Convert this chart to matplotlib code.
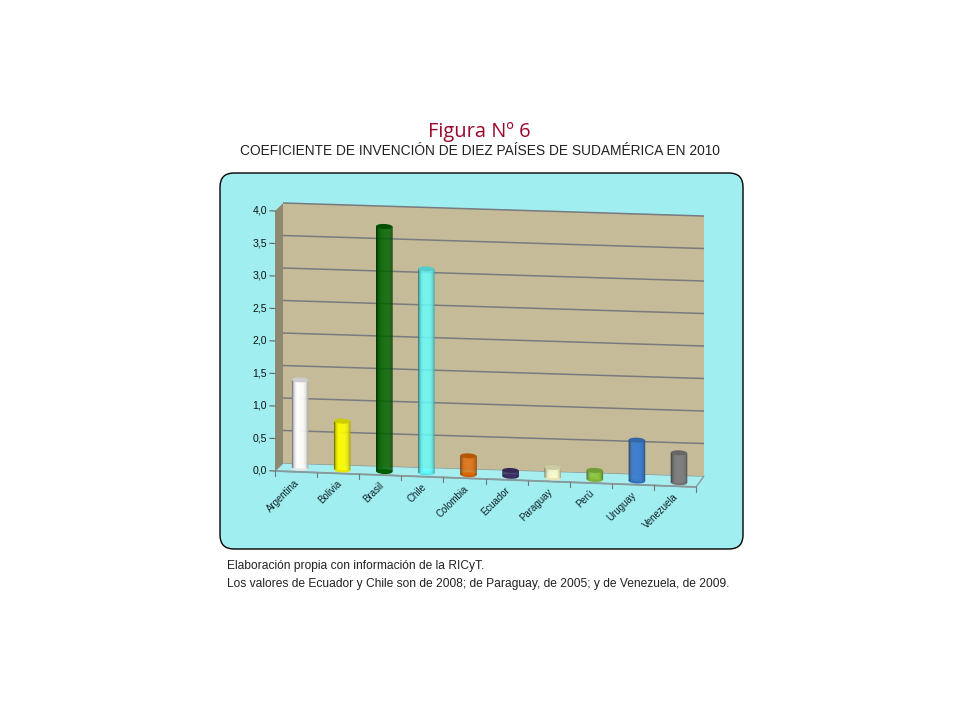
import numpy as np
import matplotlib
matplotlib.use('Agg')
import matplotlib.pyplot as plt
import matplotlib.patches as patch
from matplotlib.transforms import Affine2D, IdentityTransform

paises = ['Argentina', 'Bolivia', 'Brasil', 'Chile', 'Colombia', 'Ecuador',
          'Paraguay', 'Perú', 'Uruguay', 'Venezuela']
valores = [1.36, 0.75, 3.77, 3.14, 0.29, 0.09, 0.16, 0.14, 0.63, 0.46]
colores = ['#ffffff', '#ffff00', '#006400', '#66ffff', '#e36c0a',
           '#403268', '#ffffcc', '#8cc63f', '#3f7fd0', '#7f7f7f']
eje_y = [0.0, 0.5, 1.0, 1.5, 2.0, 2.5, 3.0, 3.5, 4.0]

titulo = 'Figura Nº 6'
subtitulo = 'COEFICIENTE DE INVENCIÓN DE DIEZ PAÍSES DE SUDAMÉRICA EN 2010'
nota1 = 'Elaboración propia con información de la RICyT.'
nota2 = 'Los valores de Ecuador y Chile son de 2008; de Paraguay, de 2005; y de Venezuela, de 2009.'

W, H = 960, 720
DEPTH = 8
SLOPE = 16 / 421
SLOPE_BACK = 13 / 420
X0, X1, Y_TOP, Y_BASE = 275, 696, 211, 471


def shade(color, f):
    c = np.array(matplotlib.colors.to_rgb(color))
    if f < 1:
        return tuple(c * f)
    return tuple(c + (1 - c) * (f - 1))


def cizalla(k):
    return Affine2D(np.array([[1, 0, 0], [-k, 1, k * X0], [0, 0, 1]]))


fig = plt.figure(figsize=(W / 100, H / 100), dpi=100, facecolor='white')

# capa de fondo en pixeles
bg = fig.add_axes([0, 0, 1, 1])
bg.set_xlim(0, W)
bg.set_ylim(H, 0)
bg.set_axis_off()
bg.add_patch(patch.FancyBboxPatch((232, 185), 499, 352, boxstyle='round,pad=12,rounding_size=14',
                                  facecolor='#a0eef0', edgecolor='black', linewidth=1))
bg.text(479, 132.5, titulo, color='#9b0a2d', fontsize=14.4, ha='center', va='center', family='Open Sans')
bg.text(479.5, 151, subtitulo, color='#222222', fontsize=9.95, ha='center', va='center', family='Liberation Sans')
bg.text(227, 566, nota1, color='#222222', fontsize=8.65, ha='left', va='center', family='Liberation Sans')
bg.text(227, 583.5, nota2, color='#222222', fontsize=8.65, ha='left', va='center', family='Liberation Sans')

# grafico: eje en pixeles con cizalla para el falso 3D
ax = fig.add_axes([X0 / W, 1 - Y_BASE / H, (X1 - X0) / W, (Y_BASE - Y_TOP) / H])
ax.set_xlim(0, len(paises))
ax.set_ylim(0, 4)
ax.set_autoscale_on(False)
ax.set_axis_off()
ax.patch.set_alpha(0)

tr = ax.transData + cizalla(SLOPE)
tr_back = ax.transData + cizalla(SLOPE_BACK) + Affine2D().translate(DEPTH, DEPTH)
tr_mid = tr + Affine2D().translate(DEPTH / 2, DEPTH / 2 - 0.5)

n = len(paises)
px_x = (X1 - X0) / n
px_y = (Y_BASE - Y_TOP) / 4
dx, dy = DEPTH / px_x, DEPTH / px_y

# paredes
suelo = np.vstack([tr.transform([(0, 0), (n, 0)]), tr_back.transform([(n, 0), (0, 0)])])
ax.add_patch(patch.Polygon(suelo, transform=IdentityTransform(), clip_on=False,
                           facecolor='#a6eef0', edgecolor='#8a9a9c', linewidth=1))
ax.add_patch(patch.Polygon([(0, 0), (0, 4), (dx, 4 + dy), (dx, dy)], transform=tr, clip_on=False,
                           facecolor='#8e8871', edgecolor='none'))
ax.add_patch(patch.Rectangle((0, 0), n, 4, transform=tr_back, clip_on=False,
                             facecolor='#c6bb98', edgecolor='none'))
for v in eje_y[1:]:
    ax.plot([0, n], [v, v], color='#777a80', lw=1.1, transform=tr_back, clip_on=False, solid_capstyle='butt')
ax.plot([0, n], [0, 0], color='#8a9a9c', lw=1.3, transform=tr, clip_on=False, solid_capstyle='butt')

# marcas y etiquetas
for v in eje_y:
    ax.plot([-0.12, 0], [v, v], color='#666666', lw=0.8, transform=tr, clip_on=False)
    ax.text(-0.19, v, ('%.1f' % v).replace('.', ','), transform=tr, ha='right', va='center',
            fontsize=7.6, color='#111111', family='Liberation Sans', clip_on=False)
for i in range(n + 1):
    ax.plot([i, i], [0, -0.07], color='#777777', lw=0.8, transform=tr, clip_on=False)
tr_lab = tr + Affine2D().translate(2, -9)
for i, p in enumerate(paises):
    ax.text(i + 0.5, 0, p, transform=tr_lab, rotation=45, rotation_mode='anchor', ha='right', va='center',
            fontsize=6.9, color='#112228', family='Liberation Sans', clip_on=False)

# barras cilindricas: tiras verticales con degradado
ancho = 0.39
tiras = np.linspace(-0.5, 0.5, 17)
alto_tapa = 5 / px_y
for i, (val, col) in enumerate(zip(valores, colores)):
    cx = i + 0.5
    ax.add_patch(patch.Ellipse((cx, 0), ancho, alto_tapa, transform=tr_mid, facecolor=shade(col, 0.9),
                               edgecolor='none', clip_on=False, zorder=3))
    for a, b in zip(tiras[:-1], tiras[1:]):
        t = (a + b) / 2
        # oscuro solo en los bordes, el izquierdo algo mas
        f = 1.0 - (0.65 if t < 0 else 0.4) * (2 * abs(t)) ** 4
        ax.bar(cx + a * ancho, val, width=(b - a) * ancho * 1.15, align='edge', transform=tr_mid,
               color=[shade(col, f)], clip_on=False, zorder=3, linewidth=0)
    ax.add_patch(patch.Ellipse((cx, val), ancho, alto_tapa, transform=tr_mid, facecolor=shade(col, 0.8),
                               edgecolor='none', clip_on=False, zorder=4))

fig.savefig('out.png', dpi=100)
